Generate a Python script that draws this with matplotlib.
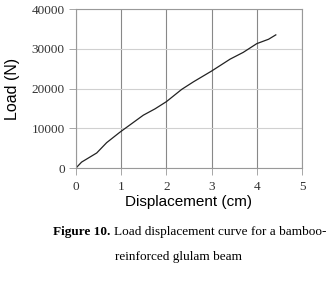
import matplotlib.pyplot as plt

disp = [0, 0.125, 0.46, 0.68, 0.97, 1.2, 1.49, 1.75, 2.0, 2.34, 2.6, 3.0, 3.41, 3.7, 4.0, 4.26, 4.42]
load = [0, 1500, 3800, 6400, 9000, 10900, 13300, 14900, 16700, 19800, 21700, 24400, 27400, 29100, 31300, 32400, 33500]

fig = plt.figure(figsize=(3.33, 2.82), dpi=100)
ax = fig.add_axes([0.228, 0.404, 0.679, 0.564])

ax.plot(disp, load, color='#222222', linewidth=0.9)

ax.set_xlim(0, 5)
ax.set_ylim(0, 40000)
ax.set_xticks([0, 1, 2, 3, 4, 5])
ax.set_yticks([0, 10000, 20000, 30000, 40000])

# vertical grid darker than horizontal, as in the original
ax.grid(axis='x', color='#888888', linewidth=0.8)
ax.grid(axis='y', color='#d0d0d0', linewidth=0.8)
ax.set_axisbelow(True)
for s in ax.spines.values():
    s.set_color('#999999')
    s.set_linewidth(0.8)

ax.tick_params(length=5, width=0.6, color='#999999', labelsize=9.5)
ax.tick_params(axis='x', pad=4)
ax.tick_params(axis='y', pad=3)
for lab in ax.get_xticklabels() + ax.get_yticklabels():
    lab.set_fontfamily('Liberation Serif')
    lab.set_color('#333333')

ax.set_xlabel('Displacement (cm)', fontsize=11, family='Liberation Sans', labelpad=2)
ax.set_ylabel('Load (N)', fontsize=11.5, family='Liberation Sans', labelpad=8)

# caption: bold "Figure 10." followed by regular text
t1 = fig.text(0.158, 0.177, 'Figure 10.', fontsize=9.5, family='Liberation Serif',
              weight='bold', ha='left', va='center')
fig.canvas.draw()
bb = t1.get_window_extent().transformed(fig.transFigure.inverted())
fig.text(bb.x1 + 0.011, 0.177, 'Load displacement curve for a bamboo-', fontsize=9.5,
         family='Liberation Serif', ha='left', va='center')
fig.text(0.535, 0.09, 'reinforced glulam beam', fontsize=9.5, family='Liberation Serif',
         ha='center', va='center')

fig.savefig('out.png', dpi=100)
